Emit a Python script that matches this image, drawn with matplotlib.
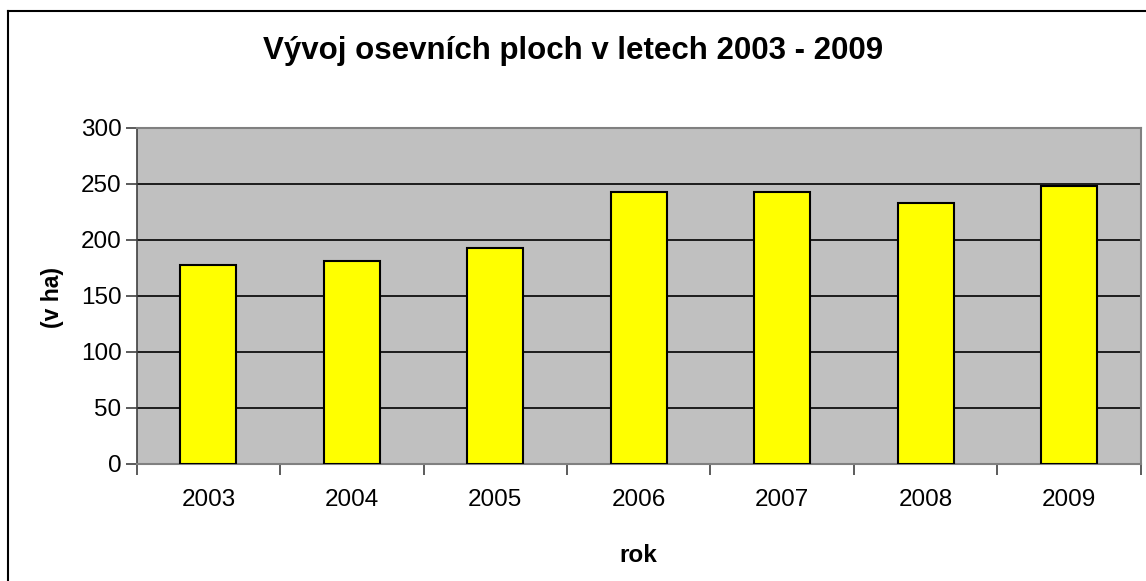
import matplotlib
matplotlib.use("Agg")
import matplotlib.pyplot as plt
from matplotlib.lines import Line2D
import numpy as np

# hodnoty
roky = ["2003", "2004", "2005", "2006", "2007", "2008", "2009"]
plochy = [178, 181, 193, 243, 243, 233, 248]
y_ticky = [0, 50, 100, 150, 200, 250, 300]

plt.rcParams["font.family"] = ["Liberation Sans", "DejaVu Sans"]

W, H = 1146, 581
fig = plt.figure(figsize=(W / 100, H / 100), dpi=100)
ax = fig.add_axes([136.7 / W, 1 - 464 / H, (1140.7 - 136.7) / W, (464 - 128) / H])

x = np.arange(len(roky))
ax.set_facecolor("#C0C0C0")
ax.bar(x, plochy, width=0.39, color="#FFFF00", edgecolor="black", linewidth=1.5, zorder=3)

ax.set_xlim(-0.5, len(roky) - 0.5)
ax.set_ylim(0, 300)
ax.set_yticks(y_ticky)
ax.set_yticklabels([str(v) for v in y_ticky], fontsize=17.5)
ax.yaxis.grid(True, color="black", linewidth=1.2, zorder=1)
ax.set_axisbelow(True)

# popisky uprostřed kategorií, čárky mezi nimi
ax.set_xticks(x)
ax.set_xticklabels(roky, fontsize=17.5)
ax.set_xticks(np.arange(-0.5, len(roky)), minor=True)
ax.tick_params(axis="x", which="major", length=0, pad=18)
ax.tick_params(axis="x", which="minor", length=8, width=1.2, color="#404040")
ax.tick_params(axis="y", length=8, width=1.2, pad=3, color="#404040")

for s in ["top", "right"]:
    ax.spines[s].set_color("#808080")
    ax.spines[s].set_linewidth(1.5)
ax.spines["left"].set_color("#404040")
ax.spines["bottom"].set_color("#808080")
ax.spines["left"].set_linewidth(1.2)
ax.spines["bottom"].set_linewidth(1.5)

fig.text(0.5, 1 - 51 / H, "Vývoj osevních ploch v letech 2003 - 2009",
         ha="center", va="center", fontsize=22.5, fontweight="bold")
fig.text(52 / W, 1 - 297 / H, "(v ha)", rotation=90, ha="center", va="center",
         fontsize=16.5, fontweight="bold")
fig.text(638.7 / W, 1 - 555 / H, "rok", ha="center", va="center",
         fontsize=17.5, fontweight="bold")

# rámeček kolem grafu
fx, fy = 8 / W, 1 - 11 / H
fig.add_artist(Line2D([fx, fx], [0, fy], color="black", linewidth=1.5, transform=fig.transFigure))
fig.add_artist(Line2D([fx, 1], [fy, fy], color="black", linewidth=1.5, transform=fig.transFigure))

fig.savefig("out.png", dpi=100)
